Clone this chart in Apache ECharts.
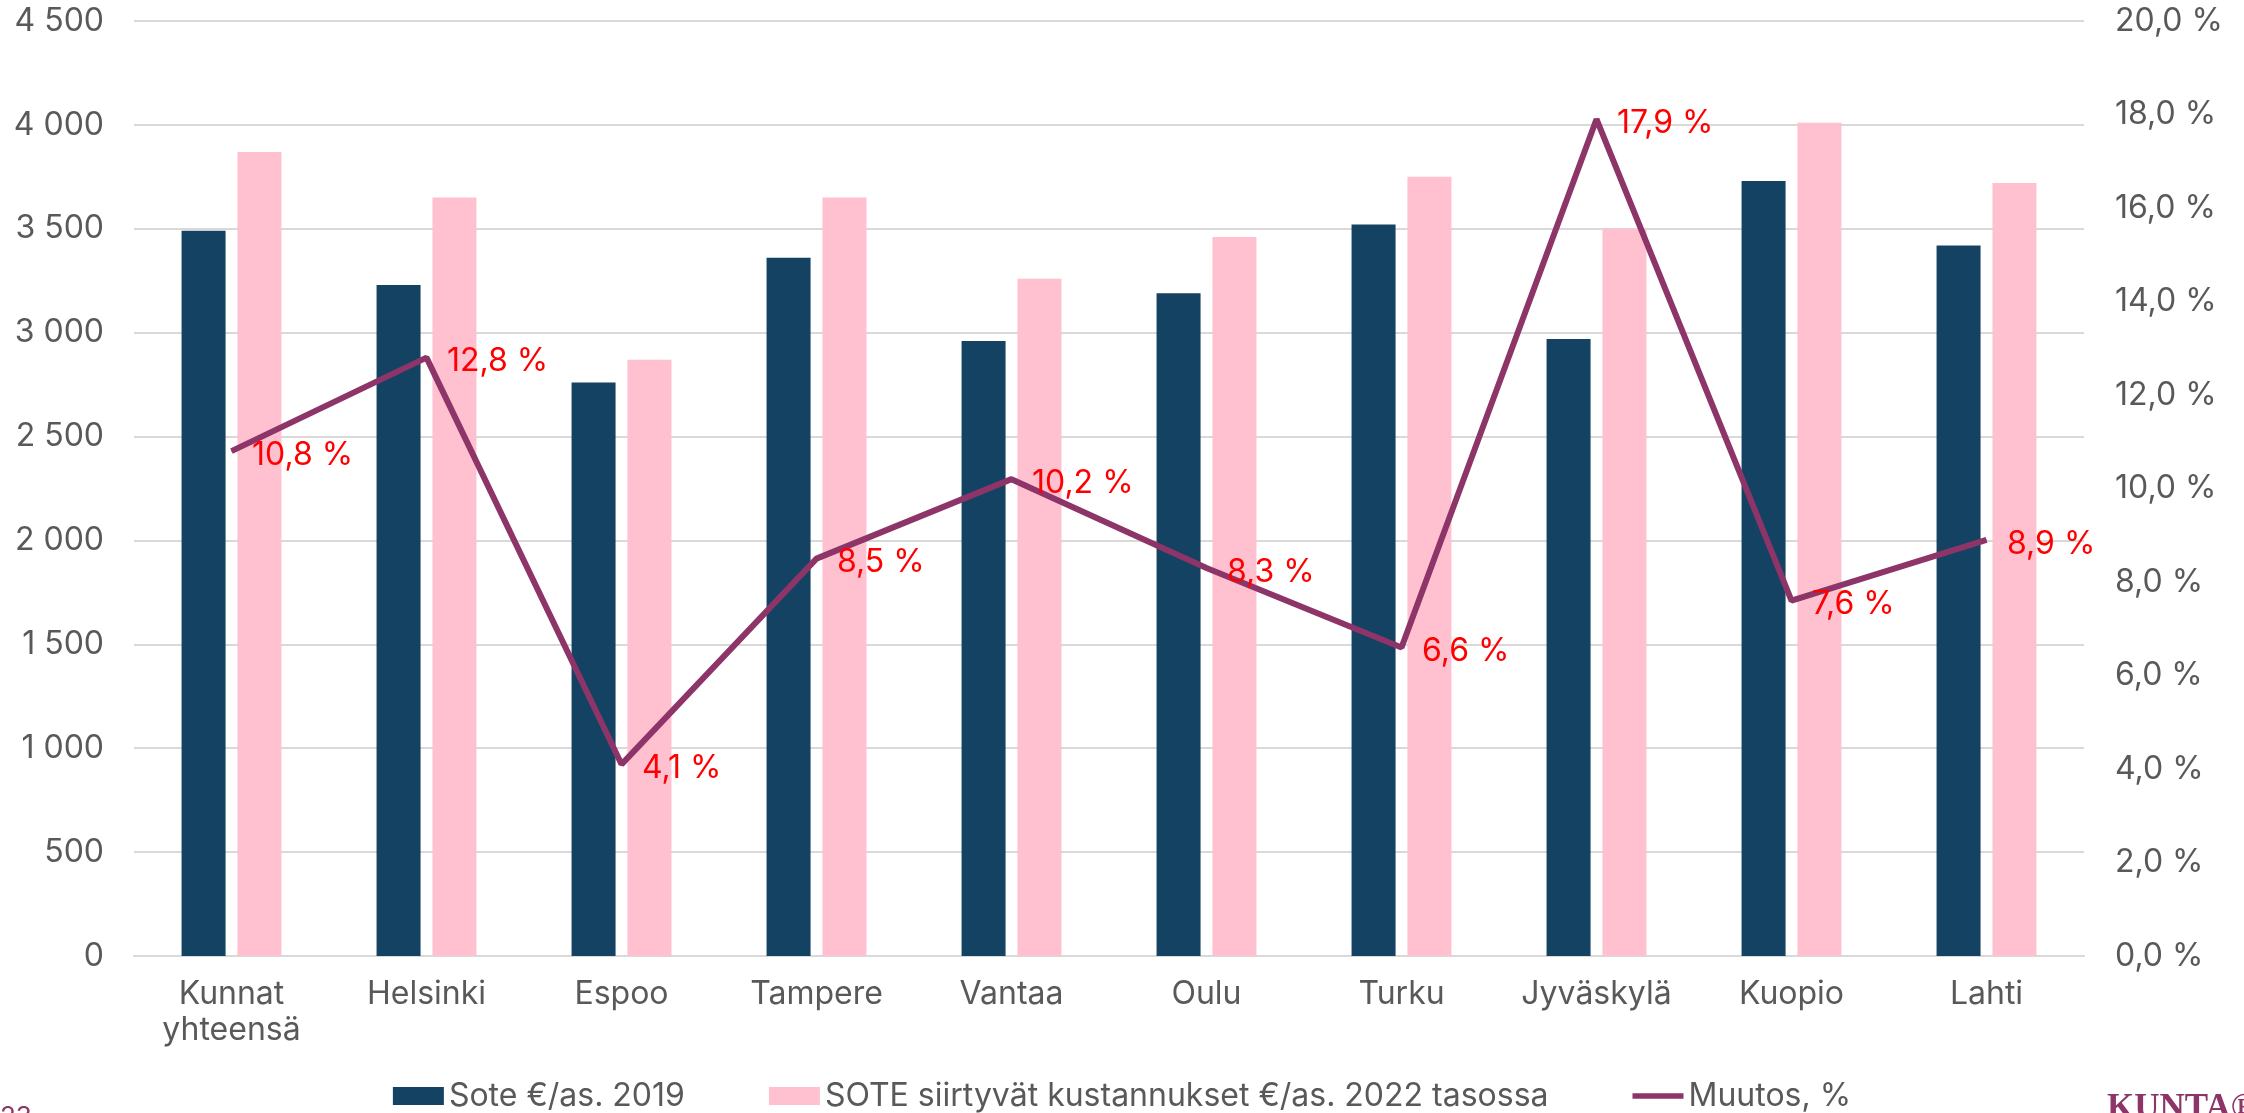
<!DOCTYPE html>
<html>
<head>
<meta charset="utf-8">
<title>Sote kustannukset</title>
<script src="https://cdn.jsdelivr.net/npm/echarts@6/dist/echarts.min.js"></script>
<style>
    html, body { margin: 0; padding: 0; background: #ffffff; }
    #chart1 { width: 2244px; height: 1113px; }
</style>
</head>
<body>
<div id="chart1"></div>
<script>
var kunnat = ['Kunnat\nyhteensä', 'Helsinki', 'Espoo', 'Tampere', 'Vantaa', 'Oulu', 'Turku', 'Jyväskylä', 'Kuopio', 'Lahti'];
var sote2019 = [3490, 3230, 2760, 3360, 2960, 3190, 3520, 2970, 3730, 3420];
var sote2022 = [3870, 3650, 2870, 3650, 3260, 3460, 3750, 3500, 4010, 3720];
var muutos = [10.8, 12.8, 4.1, 8.5, 10.2, 8.3, 6.6, 17.9, 7.6, 8.9];
var sarjat = ['Sote €/as. 2019', 'SOTE siirtyvät kustannukset €/as. 2022 tasossa', 'Muutos, %'];

var fontti = 'Inter, Roboto, sans-serif';

function tuhannet(v) {
    if (v < 1000) return String(v);
    var loput = String(v % 1000);
    while (loput.length < 3) loput = '0' + loput;
    return Math.floor(v / 1000) + ' ' + loput;
}

function prosentti(v) {
    return v.toFixed(1).replace('.', ',') + ' %';
}

function piirra() {
    var myChart = echarts.init(document.getElementById('chart1'));

    option = {
        backgroundColor: '#ffffff',
        animation: false,
        textStyle: { fontFamily: fontti },
        grid: {
            left: 134,
            right: 160,
            top: 21,
            bottom: 157
        },
        legend: {
            data: [
                { name: sarjat[0], icon: 'rect' },
                { name: sarjat[1], icon: 'rect' },
                // viivan merkki paksuna janana
                { name: sarjat[2], icon: 'path://M0,0 L54,0 L54,6 L0,6 Z' }
            ],
            left: 'center',
            top: 1080,
            padding: 0,
            itemWidth: 51,
            itemHeight: 18,
            itemGap: 84,
            textStyle: {
                color: '#595959',
                fontSize: 32,
                fontFamily: fontti
            }
        },
        xAxis: [{
            type: 'category',
            data: kunnat,
            axisLine: { lineStyle: { color: '#d9d9d9', width: 2 } },
            axisTick: { show: false },
            axisLabel: {
                color: '#595959',
                fontSize: 32,
                lineHeight: 36,
                margin: 20,
                interval: 0
            }
        }],
        yAxis: [{
            type: 'value',
            min: 0,
            max: 4500,
            interval: 500,
            axisLine: { show: false },
            axisTick: { show: false },
            splitLine: { lineStyle: { color: '#d9d9d9', width: 2 } },
            axisLabel: {
                color: '#595959',
                fontSize: 32,
                margin: 30,
                formatter: tuhannet
            }
        }, {
            type: 'value',
            min: 0,
            max: 20,
            interval: 2,
            axisLine: { show: false },
            axisTick: { show: false },
            splitLine: { show: false },
            axisLabel: {
                color: '#595959',
                fontSize: 32,
                margin: 31,
                formatter: prosentti
            }
        }],
        series: [{
            name: sarjat[0],
            type: 'bar',
            data: sote2019,
            barWidth: 44,
            barGap: '27%',
            itemStyle: { color: '#134262' }
        }, {
            name: sarjat[1],
            type: 'bar',
            data: sote2022,
            barWidth: 44,
            barGap: '27%',
            itemStyle: { color: '#ffc0cf' }
        }, {
            name: sarjat[2],
            type: 'line',
            yAxisIndex: 1,
            data: muutos,
            symbol: 'circle',
            symbolSize: 1,
            showSymbol: true,
            z: 5,
            lineStyle: { color: '#8d3468', width: 6 },
            itemStyle: { color: '#8d3468' },
            label: {
                show: true,
                position: 'right',
                distance: 20,
                offset: [0, 4],
                color: '#ff0000',
                fontSize: 32,
                fontFamily: fontti,
                formatter: function (p) { return prosentti(p.value); }
            }
        }],
        graphic: [{
            type: 'text',
            left: 0,
            top: 1104,
            style: {
                text: '23',
                fill: '#8d3468',
                font: '26px ' + fontti
            }
        }, {
            type: 'text',
            left: 2107,
            top: 1091,
            style: {
                text: 'KUNTA®',
                fill: '#8d3468',
                font: 'bold 35px "Liberation Serif", serif'
            }
        }]
    };

    myChart.setOption(option);
    window.addEventListener('resize', function () {
        myChart.resize();
    });
}

piirra();
</script>
</body>
</html>
